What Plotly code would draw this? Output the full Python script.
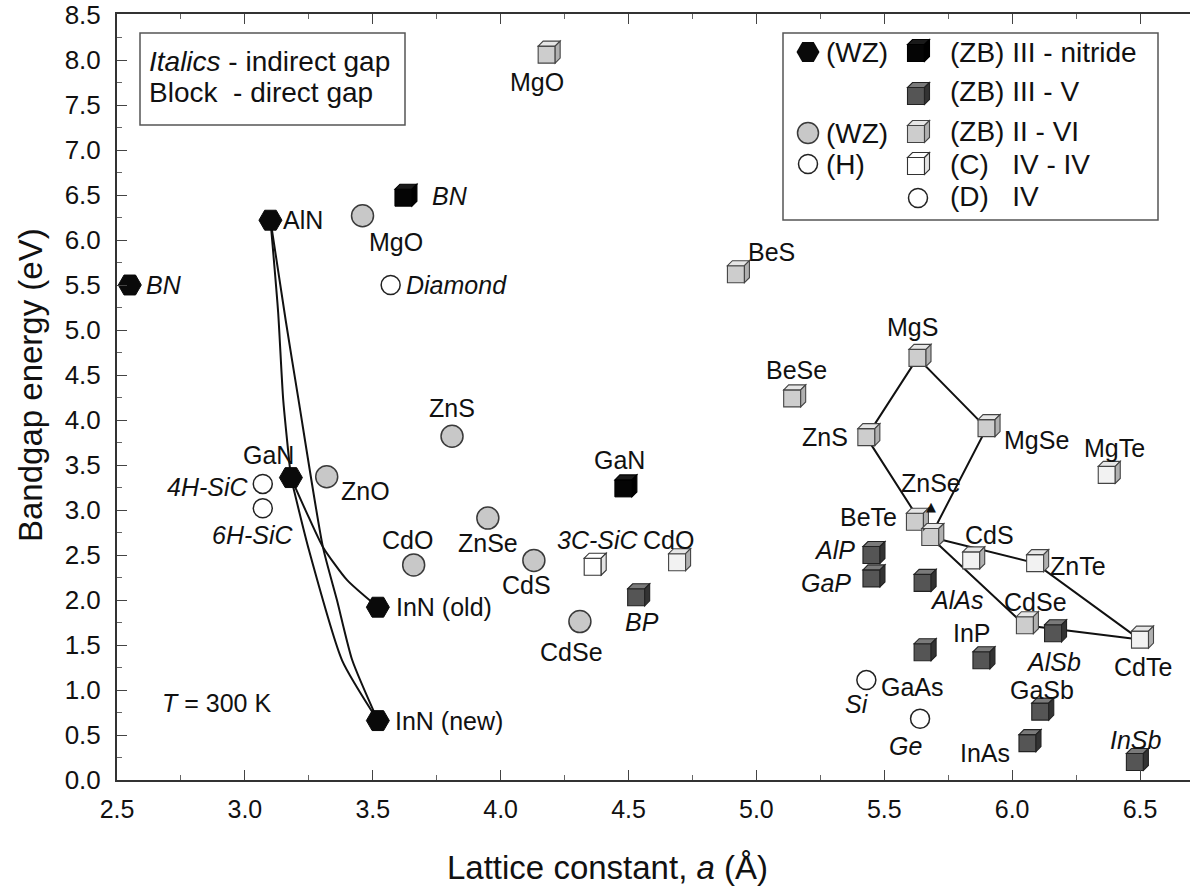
import plotly.graph_objects as go

# ---------------- data: lattice constant a (Å) and bandgap Eg (eV) ----------------
# wurtzite III-nitrides
wz_n_names = ["BN", "AlN", "GaN", "InN (old)", "InN (new)"]
wz_n_a = [2.55, 3.10, 3.18, 3.52, 3.52]
wz_n_eg = [5.50, 6.22, 3.36, 1.92, 0.66]

# wurtzite II-VI (and oxides)
wz_26_names = ["MgO", "ZnS", "ZnO", "ZnSe", "CdO", "CdS", "CdSe"]
wz_26_a = [3.46, 3.81, 3.32, 3.95, 3.66, 4.13, 4.31]
wz_26_eg = [6.27, 3.82, 3.37, 2.91, 2.39, 2.44, 1.76]

# hexagonal SiC polytypes
hex_names = ["4H-SiC", "6H-SiC"]
hex_a = [3.07, 3.07]
hex_eg = [3.29, 3.02]

# diamond-structure group IV
dia_names = ["Diamond", "Si", "Ge"]
dia_a = [3.57, 5.43, 5.64]
dia_eg = [5.50, 1.11, 0.68]

# zinc-blende III-nitrides
zb_n_names = ["BN", "GaN"]
zb_n_a = [3.62, 4.48]
zb_n_eg = [6.47, 3.24]

# zinc-blende III-V
zb_35_names = ["BP", "AlP", "GaP", "AlAs", "GaAs", "InP", "AlSb", "GaSb", "InAs", "InSb"]
zb_35_a = [4.53, 5.45, 5.45, 5.65, 5.65, 5.88, 6.16, 6.11, 6.06, 6.48]
zb_35_eg = [2.03, 2.50, 2.24, 2.19, 1.42, 1.33, 1.63, 0.76, 0.41, 0.20]

# zinc-blende II-VI
zb_26_names = ["MgO", "BeS", "BeSe", "MgS", "ZnS", "MgSe", "MgTe", "BeTe",
               "ZnSe", "CdS", "ZnTe", "CdSe", "CdTe", "CdO"]
zb_26_a = [4.18, 4.92, 5.14, 5.63, 5.43, 5.90, 6.37, 5.62,
           5.68, 5.84, 6.09, 6.05, 6.50, 4.69]
zb_26_eg = [8.06, 5.62, 4.24, 4.69, 3.81, 3.91, 3.39, 2.87,
            2.70, 2.44, 2.41, 1.72, 1.56, 2.42]

# cubic IV-IV
c_44_names = ["3C-SiC"]
c_44_a = [4.36]
c_44_eg = [2.37]

# nitride alloy curves (a, Eg) along each composition path
algan_a = [3.10, 3.13, 3.15, 3.18]
algan_eg = [6.22, 5.20, 4.22, 3.36]
alinn_a = [3.10, 3.16, 3.21, 3.305, 3.36, 3.42, 3.52]
alinn_eg = [6.22, 5.10, 4.22, 2.59, 2.00, 1.33, 0.66]
ingan_old_a = [3.18, 3.24, 3.305, 3.40, 3.52]
ingan_old_eg = [3.36, 2.98, 2.59, 2.22, 1.92]
ingan_new_a = [3.18, 3.25, 3.38, 3.52]
ingan_new_eg = [3.36, 2.56, 1.33, 0.66]

# II-VI alloy loops (by compound name)
mgzn_sse_loop = ["ZnS", "MgS", "MgSe", "ZnSe", "ZnS"]
zncd_sete_loop = ["ZnSe", "ZnTe", "CdTe", "CdSe", "ZnSe"]

# compounds whose labels are set in italics (indirect gap)
italic_labels = {("wz_n", "BN"), ("hex", "4H-SiC"), ("hex", "6H-SiC"),
                 ("dia", "Diamond"), ("dia", "Si"), ("dia", "Ge"),
                 ("zb_n", "BN"), ("zb_35", "BP"), ("zb_35", "AlP"),
                 ("zb_35", "GaP"), ("zb_35", "AlAs"), ("zb_35", "AlSb"),
                 ("zb_35", "InSb"), ("c_44", "3C-SiC")}

# ---------------- styling ----------------
FONT = "Liberation Sans, Arial, Helvetica, sans-serif"
INK = "#111111"
LBL = 25

# label placement: (xanchor, xshift px, yshift px)
label_pos = {
    ("wz_n", "BN"): ("left", 14, 0), ("wz_n", "AlN"): ("left", 11, 0),
    ("wz_n", "GaN"): ("center", -22, 23), ("wz_n", "InN (old)"): ("left", 16, 0),
    ("wz_n", "InN (new)"): ("left", 15, 0),
    ("wz_26", "MgO"): ("center", 33, -26), ("wz_26", "ZnS"): ("center", 0, 28),
    ("wz_26", "ZnO"): ("center", 39, -14), ("wz_26", "ZnSe"): ("center", 0, -25),
    ("wz_26", "CdO"): ("center", -6, 25), ("wz_26", "CdS"): ("center", -7, -25),
    ("wz_26", "CdSe"): ("center", -8, -30),
    ("hex", "4H-SiC"): ("right", -12, -3), ("hex", "6H-SiC"): ("center", -10, -27),
    ("dia", "Diamond"): ("left", 13, 0), ("dia", "Si"): ("center", -9, -24),
    ("dia", "Ge"): ("center", -15, -27),
    ("zb_n", "BN"): ("left", 27, 2), ("zb_n", "GaN"): ("center", -4, 28),
    ("zb_35", "BP"): ("center", 6, -25), ("zb_35", "AlP"): ("right", -14, 5),
    ("zb_35", "GaP"): ("right", -18, -5), ("zb_35", "AlAs"): ("center", 34, -17),
    ("zb_35", "GaAs"): ("center", -10, -35), ("zb_35", "InP"): ("center", -9, 27),
    ("zb_35", "AlSb"): ("center", 0, -29), ("zb_35", "GaSb"): ("center", 2, 22),
    ("zb_35", "InAs"): ("right", -15, -10), ("zb_35", "InSb"): ("center", 1, 22),
    ("zb_26", "MgO"): ("center", -10, -27), ("zb_26", "BeS"): ("center", 36, 22),
    ("zb_26", "BeSe"): ("center", 4, 28), ("zb_26", "MgS"): ("center", -5, 31),
    ("zb_26", "ZnS"): ("right", -16, 0), ("zb_26", "MgSe"): ("left", 15, -12),
    ("zb_26", "MgTe"): ("center", 8, 27), ("zb_26", "BeTe"): ("right", -16, 5),
    ("zb_26", "ZnSe"): ("center", 1, 54), ("zb_26", "CdS"): ("center", 18, 25),
    ("zb_26", "ZnTe"): ("left", 13, -3), ("zb_26", "CdSe"): ("center", 11, 23),
    ("zb_26", "CdTe"): ("center", 3, -27), ("zb_26", "CdO"): ("center", -9, 22),
    ("c_44", "3C-SiC"): ("center", 5, 27),
}

# II-VI compounds drawn with the paler cube shade
pale_26 = {"MgTe", "CdS", "ZnTe", "CdTe", "CdO"}

fig = go.Figure()
shapes = []
annotations = []


def add_lines(xs, ys, spline=False):
    fig.add_trace(go.Scatter(
        x=xs, y=ys, mode="lines", hoverinfo="skip", showlegend=False,
        line=dict(color=INK, width=2, shape="spline" if spline else "linear",
                  smoothing=0.6)))


def cube_faces(xs, ys, top, side, edge, xref="x", yref="y", h=8.5, d=5):
    """Top and right faces of a cube whose front face is a square marker."""
    top_path = f"M {-h},{h} L {h},{h} L {h + d},{h + d} L {-h + d},{h + d} Z"
    side_path = f"M {h},{h} L {h},{-h} L {h + d},{-h + d} L {h + d},{h + d} Z"
    for x, y in zip(xs, ys):
        for p, c in ((top_path, top), (side_path, side)):
            shapes.append(dict(type="path", path=p, xref=xref, yref=yref,
                               xsizemode="pixel", ysizemode="pixel",
                               xanchor=x, yanchor=y, fillcolor=c,
                               line=dict(color=edge, width=1.1), layer="above"))


def add_labels(group, names, xs, ys):
    for n, x, y in zip(names, xs, ys):
        anchor, dx, dy = label_pos[(group, n)]
        txt = f"<i>{n}</i>" if (group, n) in italic_labels else n
        annotations.append(dict(x=x, y=y, xref="x", yref="y", text=txt,
                                showarrow=False, xanchor=anchor, yanchor="middle",
                                xshift=dx, yshift=dy,
                                font=dict(family=FONT, size=LBL, color=INK)))


# alloy curves
add_lines(algan_a, algan_eg, spline=True)
add_lines(alinn_a, alinn_eg, spline=True)
add_lines(ingan_old_a, ingan_old_eg, spline=True)
add_lines(ingan_new_a, ingan_new_eg, spline=True)

zb26 = {n: (a, e) for n, a, e in zip(zb_26_names, zb_26_a, zb_26_eg)}
for loop in (mgzn_sse_loop, zncd_sete_loop):
    add_lines([zb26[n][0] for n in loop], [zb26[n][1] for n in loop])

# point markers
fig.add_trace(go.Scatter(x=wz_n_a, y=wz_n_eg, mode="markers", name="(WZ) III-nitride",
                         marker=dict(symbol="hexagon2", size=23, color="#0a0a0a",
                                     line=dict(color="#0a0a0a", width=1))))
fig.add_trace(go.Scatter(x=wz_26_a, y=wz_26_eg, mode="markers", name="(WZ) II-VI",
                         marker=dict(symbol="circle", size=22, color="#c8c8c8",
                                     line=dict(color="#3a3a3a", width=1.5))))
fig.add_trace(go.Scatter(x=hex_a, y=hex_eg, mode="markers", name="(H)",
                         marker=dict(symbol="circle", size=19, color="white",
                                     line=dict(color="#222", width=1.5))))
fig.add_trace(go.Scatter(x=dia_a, y=dia_eg, mode="markers", name="(D) IV",
                         marker=dict(symbol="circle", size=19, color="white",
                                     line=dict(color="#222", width=1.5))))

cube_faces(zb_n_a, zb_n_eg, "#1a1a1a", "#000000", "#000000")
fig.add_trace(go.Scatter(x=zb_n_a, y=zb_n_eg, mode="markers", name="(ZB) III-nitride",
                         marker=dict(symbol="square", size=17, color="#050505",
                                     line=dict(color="#000", width=1))))
cube_faces(zb_35_a, zb_35_eg, "#7a7a7a", "#333333", "#222222")
fig.add_trace(go.Scatter(x=zb_35_a, y=zb_35_eg, mode="markers", name="(ZB) III-V",
                         marker=dict(symbol="square", size=17, color="#555555",
                                     line=dict(color="#222", width=1.1))))
cube_faces(zb_26_a, zb_26_eg, "#e6e6e6", "#b0b0b0", "#444444")
fig.add_trace(go.Scatter(x=zb_26_a, y=zb_26_eg, mode="markers", name="(ZB) II-VI",
                         marker=dict(symbol="square", size=17,
                                     color=["#f2f2f2" if n in pale_26 else "#cdcdcd"
                                            for n in zb_26_names],
                                     line=dict(color="#444", width=1.1))))
cube_faces(c_44_a, c_44_eg, "#ffffff", "#e4e4e4", "#333333")
fig.add_trace(go.Scatter(x=c_44_a, y=c_44_eg, mode="markers", name="(C) IV-IV",
                         marker=dict(symbol="square", size=17, color="white",
                                     line=dict(color="#333", width=1.1))))

add_labels("wz_n", wz_n_names, wz_n_a, wz_n_eg)
add_labels("wz_26", wz_26_names, wz_26_a, wz_26_eg)
add_labels("hex", hex_names, hex_a, hex_eg)
add_labels("dia", dia_names, dia_a, dia_eg)
add_labels("zb_n", zb_n_names, zb_n_a, zb_n_eg)
add_labels("zb_35", zb_35_names, zb_35_a, zb_35_eg)
add_labels("zb_26", zb_26_names, zb_26_a, zb_26_eg)
add_labels("c_44", c_44_names, c_44_a, c_44_eg)

# small pointer above the zinc-blende ZnSe cube
annotations.append(dict(x=zb26["ZnSe"][0], y=zb26["ZnSe"][1], xref="x", yref="y",
                        text="▲", showarrow=False, yshift=31, xshift=1,
                        font=dict(family="DejaVu Sans", size=13, color=INK)))

# ---------------- overlay frame in pixel units for boxes and key ----------------
L, R, T, B = 117, 1190, 14, 780


def px_x(p):
    return (p - L) / (R - L)


def px_y(p):
    return (B - p) / (B - T)


# note box
shapes.append(dict(type="rect", xref="x2", yref="y2", x0=140, x1=405, y0=33, y1=125,
                   line=dict(color="#555", width=1.5), fillcolor="white", layer="above"))
annotations.append(dict(x=147, y=61, xref="x2", yref="y2", xanchor="left",
                        text="<i>Italics</i> - indirect gap", showarrow=False,
                        font=dict(family=FONT, size=28, color=INK)))
annotations.append(dict(x=147, y=92, xref="x2", yref="y2", xanchor="left",
                        text="Block  - direct gap", showarrow=False,
                        font=dict(family=FONT, size=28, color=INK)))

# key box
shapes.append(dict(type="rect", xref="x2", yref="y2", x0=783, x1=1158, y0=33, y1=220,
                   line=dict(color="#555", width=1.5), fillcolor="white", layer="below"))

key_hex_x, key_hex_y = [808], [52]
key_gray_x, key_gray_y = [808], [133]
key_white_x, key_white_y = [808, 918], [164, 198]
fig.add_trace(go.Scatter(x=key_hex_x, y=key_hex_y, xaxis="x2", yaxis="y2", mode="markers",
                         showlegend=False, hoverinfo="skip",
                         marker=dict(symbol="hexagon2", size=23, color="#0a0a0a")))
fig.add_trace(go.Scatter(x=key_gray_x, y=key_gray_y, xaxis="x2", yaxis="y2", mode="markers",
                         showlegend=False, hoverinfo="skip",
                         marker=dict(symbol="circle", size=21, color="#c8c8c8",
                                     line=dict(color="#3a3a3a", width=1.5))))
fig.add_trace(go.Scatter(x=key_white_x, y=key_white_y, xaxis="x2", yaxis="y2", mode="markers",
                         showlegend=False, hoverinfo="skip",
                         marker=dict(symbol="circle", size=19, color="white",
                                     line=dict(color="#222", width=1.5))))
key_cubes = [  # (y, front, top, side, edge)
    (53, "#050505", "#1a1a1a", "#000000", "#000000"),
    (96, "#555555", "#7a7a7a", "#333333", "#222222"),
    (134, "#cdcdcd", "#e6e6e6", "#b0b0b0", "#444444"),
    (166, "#ffffff", "#ffffff", "#e4e4e4", "#333333"),
]
for ky, front, top, side, edge in key_cubes:
    cube_faces([916], [ky], top, side, edge, xref="x2", yref="y2")
    fig.add_trace(go.Scatter(x=[916], y=[ky], xaxis="x2", yaxis="y2", mode="markers",
                             showlegend=False, hoverinfo="skip",
                             marker=dict(symbol="square", size=17, color=front,
                                         line=dict(color=edge, width=1.1))))

key_text = [(824, 52, "(WZ)"), (948, 52, "(ZB) III - nitride"), (948, 91, "(ZB) III - V"),
            (824, 133, "(WZ)"), (948, 131, "(ZB) II - VI"), (824, 164, "(H)"),
            (948, 164, "(C)   IV - IV"), (948, 196, "(D)   IV")]
for kx, ky, t in key_text:
    annotations.append(dict(x=kx, y=ky, xref="x2", yref="y2", xanchor="left", text=t,
                            showarrow=False, font=dict(family=FONT, size=28, color=INK)))

annotations.append(dict(x=160, y=703, xref="x2", yref="y2", xanchor="left",
                        text="<i>T</i> = 300 K", showarrow=False,
                        font=dict(family=FONT, size=25, color=INK)))

# axis titles (paper coordinates, outside the plotting area)
annotations.append(dict(x=px_x(30), y=px_y(385), xref="paper", yref="paper",
                        xanchor="center", yanchor="middle",
                        textangle=-90, text="Bandgap energy (eV)", showarrow=False,
                        font=dict(family=FONT, size=33, color=INK)))
annotations.append(dict(x=px_x(607), y=px_y(868), xref="paper", yref="paper",
                        xanchor="center", yanchor="middle",
                        text="Lattice constant, <i>a</i> (Å)", showarrow=False,
                        font=dict(family=FONT, size=33, color=INK)))

xr = [2.5, 2.5 + (R - L) / 255.75]
yr = [0, (B - T) / 90.0]

fig.update_layout(
    width=1190, height=894, paper_bgcolor="white", plot_bgcolor="white",
    margin=dict(l=L, r=1190 - R, t=T, b=894 - B), showlegend=False,
    font=dict(family=FONT, color=INK),
    shapes=shapes, annotations=annotations,
    xaxis=dict(range=xr, tickvals=[2.5 + 0.5 * i for i in range(9)],
               ticktext=[f"{2.5 + 0.5 * i:.1f}" for i in range(9)],
               ticks="inside", ticklen=10, tickwidth=1.3, tickcolor="#444",
               showline=True, linecolor="#333", linewidth=2, mirror="ticks",
               showgrid=False, zeroline=False, ticklabelstandoff=6,
               tickfont=dict(family=FONT, size=25, color=INK),
               minor=dict(ticks="inside", ticklen=5, dtick=0.25, tickcolor="#666",
                          showgrid=False)),
    yaxis=dict(range=yr, tickvals=[0.5 * i for i in range(18)],
               ticktext=[f"{0.5 * i:.1f}" for i in range(18)],
               ticks="inside", ticklen=10, tickwidth=1.3, tickcolor="#444",
               showline=True, linecolor="#333", linewidth=2,
               showgrid=False, zeroline=False, ticklabelstandoff=9,
               tickfont=dict(family=FONT, size=26, color=INK),
               minor=dict(ticks="inside", ticklen=5, dtick=0.25, tickcolor="#666",
                          showgrid=False)),
    xaxis2=dict(overlaying="x", range=[L, R], visible=False, fixedrange=True),
    yaxis2=dict(overlaying="y", range=[B, T], visible=False, fixedrange=True),
)

fig.write_html("out.html")
